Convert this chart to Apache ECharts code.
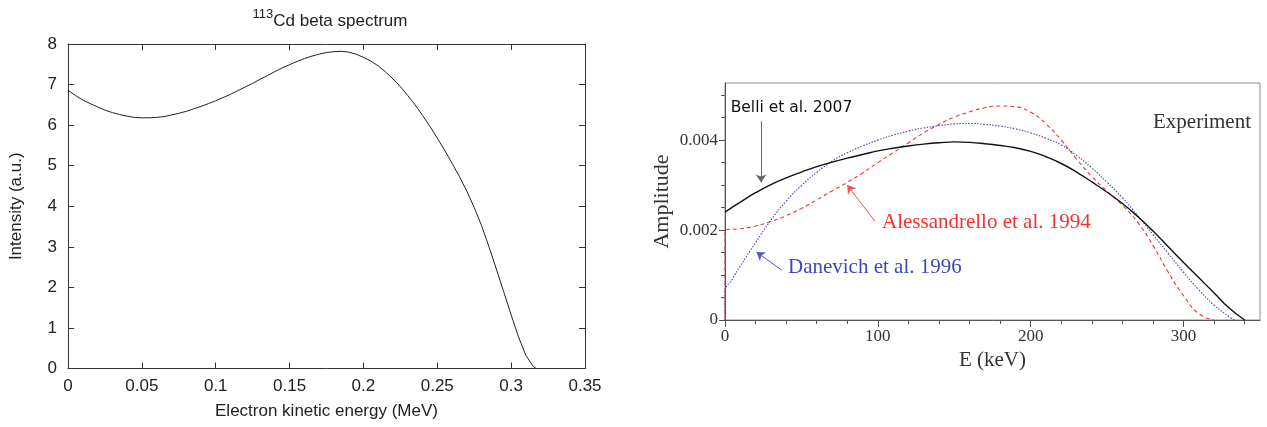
<!DOCTYPE html>
<html>
<head>
<meta charset="utf-8">
<script src="https://cdn.jsdelivr.net/npm/echarts@6/dist/echarts.min.js"></script>
<style>
  html, body { margin: 0; padding: 0; background: #fff; }
  #chart { width: 1267px; height: 427px; }
</style>
</head>
<body>
<div id="chart"></div>
<script>
// ---- 113Cd beta spectrum (left panel), sampled every 5 keV ----
const cdEnergy = [0, 0.005, 0.01, 0.015, 0.02, 0.025, 0.03, 0.035, 0.04, 0.045,
  0.05, 0.055, 0.06, 0.065, 0.07, 0.075, 0.08, 0.085, 0.09, 0.095,
  0.10, 0.105, 0.11, 0.115, 0.12, 0.125, 0.13, 0.135, 0.14, 0.145,
  0.15, 0.155, 0.16, 0.165, 0.17, 0.175, 0.18, 0.185, 0.19, 0.195,
  0.20, 0.205, 0.21, 0.215, 0.22, 0.225, 0.23, 0.235, 0.24, 0.245,
  0.25, 0.255, 0.26, 0.265, 0.27, 0.275, 0.28, 0.285, 0.29, 0.295,
  0.30, 0.305, 0.31, 0.315, 0.317];
const cdIntensity = [6.86, 6.73, 6.62, 6.53, 6.45, 6.37, 6.31, 6.26, 6.22, 6.19,
  6.18, 6.18, 6.19, 6.21, 6.25, 6.29, 6.34, 6.40, 6.46, 6.53,
  6.60, 6.68, 6.76, 6.85, 6.94, 7.03, 7.13, 7.22, 7.32, 7.41,
  7.49, 7.57, 7.64, 7.70, 7.75, 7.79, 7.81, 7.82, 7.80, 7.75,
  7.67, 7.58, 7.46, 7.31, 7.14, 6.95, 6.73, 6.50, 6.24, 5.97,
  5.68, 5.38, 5.06, 4.73, 4.37, 3.97, 3.52, 3.00, 2.45, 1.89,
  1.32, 0.78, 0.32, 0.05, 0];

// ---- Experimental spectra (right panel), E in keV ----
const belliE = [0, 10, 20, 30, 40, 50, 60, 70, 80, 90, 100, 110, 120, 130, 140, 150,
  160, 170, 180, 190, 200, 210, 220, 230, 240, 250, 260, 270, 280, 290, 300,
  310, 320, 330, 340];
const belliAmp = [0.00240, 0.00262, 0.00283, 0.00301, 0.00316, 0.00329, 0.00341,
  0.00351, 0.00360, 0.00368, 0.00376, 0.00382, 0.00387, 0.00391, 0.00394,
  0.00396, 0.00395, 0.00392, 0.00388, 0.00383, 0.00375, 0.00363, 0.00348,
  0.00329, 0.00307, 0.00284, 0.00259, 0.00230, 0.00198, 0.00163, 0.00128,
  0.00094, 0.00060, 0.00026, 0];

const alesE = [0, 0, 10, 20, 30, 40, 50, 60, 70, 80, 90, 100, 110, 120, 130, 140,
  150, 160, 170, 180, 190, 200, 210, 220, 230, 240, 250, 260, 270, 280, 290,
  300, 310, 320];
const alesAmp = [0, 0.00200, 0.00203, 0.00209, 0.00219, 0.00232, 0.00248, 0.00267,
  0.00287, 0.00306, 0.00327, 0.00350, 0.00372, 0.00394, 0.00416, 0.00435,
  0.00451, 0.00463, 0.00472, 0.00476, 0.00474, 0.00462, 0.00436, 0.00400,
  0.00358, 0.00319, 0.00286, 0.00255, 0.00217, 0.00166, 0.00106, 0.00054,
  0.00014, 0];

const daneE = [0, 0, 5, 10, 20, 30, 40, 50, 60, 70, 80, 90, 100, 110, 120, 130, 140,
  150, 160, 170, 180, 190, 200, 210, 220, 230, 240, 250, 260, 270, 280, 290,
  300, 310, 320, 330, 333];
const daneAmp = [0, 0.00062, 0.00092, 0.00120, 0.00172, 0.00222, 0.00264, 0.00299,
  0.00328, 0.00353, 0.00372, 0.00387, 0.00400, 0.00411, 0.00420, 0.00427,
  0.00432, 0.00436, 0.00437, 0.00435, 0.00431, 0.00425, 0.00416, 0.00404,
  0.00389, 0.00366, 0.00338, 0.00306, 0.00272, 0.00232, 0.00190, 0.00148,
  0.00106, 0.00067, 0.00033, 0.00007, 0];

// ---- Tick values for the right panel ----
const rightXMajor = [0, 100, 200, 300];
const rightXMinor = [20, 40, 60, 80, 120, 140, 160, 180, 220, 240, 260, 280, 320, 340];
const rightYMajor = [0, 0.002, 0.004];
const rightYMinor = [0.0005, 0.001, 0.0015, 0.0025, 0.003, 0.0035, 0.0045, 0.005];

const pairs = (xs, ys) => xs.map((x, i) => [x, ys[i]]);

const sans = '"Liberation Sans", Arial, Helvetica, sans-serif';
const serif = '"Liberation Serif", "Times New Roman", serif';
const frameLeft = '#333';
const textLeft = '#222';
const textRight = '#333';

// fresh objects per axis so ECharts never shares option state between axes
const leftTicks = () => ({ show: true, inside: true, length: 6, lineStyle: { color: frameLeft, width: 1 } });
const leftLine = () => ({ show: true, onZero: false, lineStyle: { color: frameLeft, width: 1 } });

const chart = echarts.init(document.getElementById('chart'), null, { renderer: 'canvas' });

chart.setOption({
  animation: false,
  backgroundColor: '#fff',
  title: {
    text: '{sup|113}{main|Cd beta spectrum}',
    left: 325,
    top: 3,
    textAlign: 'center',
    textStyle: {
      fontWeight: 'normal',
      rich: {
        sup: { fontFamily: sans, fontSize: 13, fontWeight: 'normal', color: textLeft,
          verticalAlign: 'bottom', padding: [0, 0, 9, 0] },
        main: { fontFamily: sans, fontSize: 17, fontWeight: 'normal', color: textLeft,
          verticalAlign: 'bottom' }
      }
    }
  },
  grid: [
    { left: 68, right: 682, top: 44, bottom: 58.5, show: false },
    { left: 725, right: 7, top: 83, bottom: 107, show: true,
      borderColor: '#8c8c8c', borderWidth: 1, backgroundColor: 'transparent' }
  ],
  xAxis: [
    { gridIndex: 0, type: 'value', position: 'bottom', min: 0, max: 0.35, interval: 0.05,
      name: 'Electron kinetic energy (MeV)', nameLocation: 'middle', nameGap: 34,
      nameTextStyle: { fontFamily: sans, fontSize: 17, color: textLeft },
      axisLine: leftLine(), axisTick: leftTicks(), splitLine: { show: false },
      axisLabel: { fontFamily: sans, fontSize: 17, color: textLeft, margin: 9 } },
    { gridIndex: 0, type: 'value', position: 'top', min: 0, max: 0.35, interval: 0.05,
      axisLine: leftLine(), axisTick: leftTicks(), splitLine: { show: false },
      axisLabel: { show: false } },
    { gridIndex: 1, type: 'value', position: 'bottom', min: 0, max: 350,
      name: 'E (keV)', nameLocation: 'middle', nameGap: 29,
      nameTextStyle: { fontFamily: serif, fontSize: 21, color: textRight },
      axisLine: { show: true, onZero: false, lineStyle: { color: '#555', width: 1 } },
      axisTick: { show: true, inside: false, length: 7, customValues: rightXMajor,
        lineStyle: { color: '#555', width: 1 } },
      axisLabel: { fontFamily: serif, fontSize: 17, color: textRight, margin: 8,
        customValues: rightXMajor },
      splitLine: { show: false } },
    { gridIndex: 1, type: 'value', position: 'bottom', min: 0, max: 350,
      axisLine: { show: false, onZero: false },
      axisTick: { show: true, inside: false, length: 4, customValues: rightXMinor,
        lineStyle: { color: '#555', width: 1 } },
      axisLabel: { show: false }, splitLine: { show: false } }
  ],
  yAxis: [
    { gridIndex: 0, type: 'value', position: 'left', min: 0, max: 8, interval: 1,
      name: 'Intensity (a.u.)', nameLocation: 'middle', nameGap: 43,
      nameTextStyle: { fontFamily: sans, fontSize: 17, color: textLeft },
      axisLine: leftLine(), axisTick: leftTicks(), splitLine: { show: false },
      axisLabel: { fontFamily: sans, fontSize: 17, color: textLeft, margin: 11 } },
    { gridIndex: 0, type: 'value', position: 'right', min: 0, max: 8, interval: 1,
      axisLine: leftLine(), axisTick: leftTicks(), splitLine: { show: false },
      axisLabel: { show: false } },
    { gridIndex: 1, type: 'value', position: 'left', min: 0, max: 0.00527,
      name: 'Amplitude', nameLocation: 'middle', nameGap: 52,
      nameTextStyle: { fontFamily: serif, fontSize: 22, color: textRight },
      axisLine: { show: true, onZero: false, lineStyle: { color: '#555', width: 1 } },
      axisTick: { show: true, inside: false, length: 6, customValues: rightYMajor,
        lineStyle: { color: '#555', width: 1 } },
      axisLabel: { fontFamily: serif, fontSize: 17, color: textRight, margin: 7,
        customValues: rightYMajor,
        formatter: v => (v === 0 ? '0' : v.toFixed(3)) },
      splitLine: { show: false } },
    { gridIndex: 1, type: 'value', position: 'left', min: 0, max: 0.00527,
      axisLine: { show: false, onZero: false },
      axisTick: { show: true, inside: false, length: 4, customValues: rightYMinor,
        lineStyle: { color: '#555', width: 1 } },
      axisLabel: { show: false }, splitLine: { show: false } }
  ],
  series: [
    { name: '113Cd', type: 'line', xAxisIndex: 0, yAxisIndex: 0,
      data: pairs(cdEnergy, cdIntensity), showSymbol: false, silent: true,
      smooth: false,
      lineStyle: { color: '#222', width: 1 } },

    { name: 'Belli et al. 2007', type: 'line', xAxisIndex: 2, yAxisIndex: 2,
      data: pairs(belliE, belliAmp), showSymbol: false, silent: true,
      smooth: 0.5, z: 4,
      lineStyle: { color: '#111', width: 1.4 },
      markLine: {
        silent: true, symbol: ['none', 'arrow'], symbolSize: 8, animation: false,
        label: { show: false },
        lineStyle: { type: 'solid', color: '#666', width: 1 },
        data: [[{ coord: [23.6, 0.00442] }, { coord: [23.6, 0.00306] }]]
      },
      markPoint: {
        silent: true, symbol: 'circle', symbolSize: 0, animation: false,
        itemStyle: { color: 'transparent' },
        data: [
          { coord: [3.7, 0.00472], value: 0,
            label: { show: true, position: 'right', distance: 0, formatter: 'Belli et al. 2007',
              fontFamily: '"DejaVu Sans", Verdana, sans-serif', fontSize: 15.5, color: '#111' } },
          { coord: [280, 0.00439], value: 0,
            label: { show: true, position: 'right', distance: 0, formatter: 'Experiment',
              fontFamily: serif, fontSize: 21, color: '#333' } }
        ]
      } },

    { name: 'Alessandrello et al. 1994', type: 'line', xAxisIndex: 2, yAxisIndex: 2,
      data: pairs(alesE, alesAmp), showSymbol: false, silent: true,
      smooth: 0.5, z: 3,
      lineStyle: { color: '#f03434', width: 1.1, type: [4, 3] },
      markLine: {
        silent: true, symbol: ['none', 'arrow'], symbolSize: 8, animation: false,
        label: { show: false },
        lineStyle: { type: 'solid', color: '#f05050', width: 1 },
        data: [[{ coord: [98.2, 0.00219] }, { coord: [80.0, 0.00300] }]]
      },
      markPoint: {
        silent: true, symbol: 'circle', symbolSize: 0, animation: false,
        itemStyle: { color: 'transparent' },
        data: [
          { coord: [102.7, 0.00216], value: 0,
            label: { show: true, position: 'right', distance: 0, formatter: 'Alessandrello et al. 1994',
              fontFamily: serif, fontSize: 21, color: '#f03434' } }
        ]
      } },

    { name: 'Danevich et al. 1996', type: 'line', xAxisIndex: 2, yAxisIndex: 2,
      data: pairs(daneE, daneAmp), showSymbol: false, silent: true,
      smooth: 0.5, z: 2,
      lineStyle: { color: '#4048b4', width: 1.1, type: [1.5, 1.5] },
      markLine: {
        silent: true, symbol: ['none', 'arrow'], symbolSize: 8, animation: false,
        label: { show: false },
        lineStyle: { type: 'solid', color: '#5058b4', width: 1 },
        data: [[{ coord: [37.1, 0.00111] }, { coord: [20.6, 0.00151] }]]
      },
      markPoint: {
        silent: true, symbol: 'circle', symbolSize: 0, animation: false,
        itemStyle: { color: 'transparent' },
        data: [
          { coord: [41.2, 0.00116], value: 0,
            label: { show: true, position: 'right', distance: 0, formatter: 'Danevich et al. 1996',
              fontFamily: serif, fontSize: 21, color: '#4048b4' } }
        ]
      } }
  ]
});
</script>
</body>
</html>
